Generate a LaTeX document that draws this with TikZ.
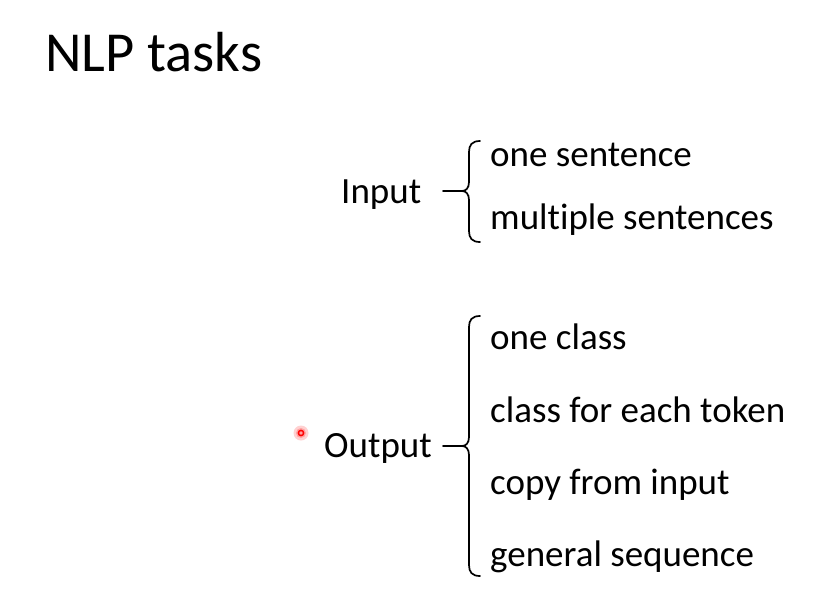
\documentclass[tikz,border=0pt]{standalone}
\usepackage{fontspec}
\setmainfont[Ligatures={NoCommon}]{Carlito}
\begin{document}
\begin{tikzpicture}[x=1pt,y=-1pt,
  body/.style={anchor=base west,inner sep=0pt,font=\fontsize{37}{44}\selectfont},
  title/.style={anchor=base west,inner sep=0pt,font=\fontsize{56.5}{66}\selectfont},
  bracepath/.style={line width=1.7pt,line cap=round,line join=round}]
\useasboundingbox (0,0) rectangle (825,590);
\node[title] (t) at (45,71) {NLP tasks};
% Input
\node[body] (in) at (341,203) {Input};
\node[body] (i1) at (490,166) {one sentence};
\node[body] (i2) at (490,229) {multiple sentences};
\coordinate (inA) at (443,191);
\coordinate (inT) at (462,191);
\draw[bracepath] (inA) -- (inT);
\draw[bracepath] (480,141) .. controls (472,141) and (469,145) .. (469,152) -- (469,182)
  .. controls (469,188) and (466,191) .. (inT)
  .. controls (466,191) and (469,194) .. (469,200) -- (469,231)
  .. controls (469,238) and (472,242) .. (480,242);
% Output
\node[body] (out) at (324,457) {Output};
\node[body] (o1) at (490,349) {one class};
\node[body] (o2) at (490,422) {class for each token};
\node[body] (o3) at (490,494) {copy from input};
\node[body] (o4) at (490,566) {general sequence};
\coordinate (outA) at (443,446);
\coordinate (outT) at (462,446);
\draw[bracepath] (outA) -- (outT);
\draw[bracepath] (480,316) .. controls (472,316) and (469,320) .. (469,327) -- (469,437)
  .. controls (469,443) and (466,446) .. (outT)
  .. controls (466,446) and (469,449) .. (469,455) -- (469,565)
  .. controls (469,572) and (472,576) .. (480,576);
% laser pointer dot
\fill[red!60,opacity=0.3] (301,433) circle (7.5);
\fill[red!70,opacity=0.35] (301,433) circle (5);
\draw[red,line width=1.5pt] (301,433) circle (2.6);
\end{tikzpicture}
\end{document}
